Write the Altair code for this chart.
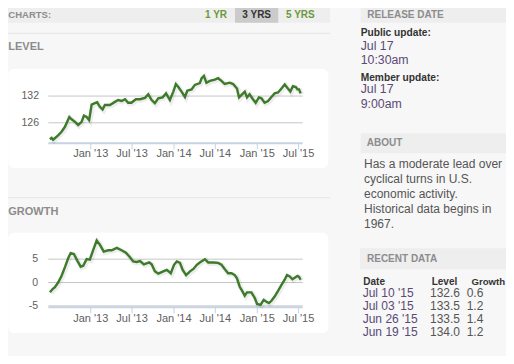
import altair as alt
import pandas as pd

# ---------------- data ----------------
level_dates = ["2012-07-06", "2012-07-13", "2012-07-20", "2012-08-11", "2012-08-26", "2012-09-10",
               "2012-09-29", "2012-10-09", "2012-10-24", "2012-11-07", "2012-11-22", "2012-12-02",
               "2012-12-14", "2012-12-25", "2013-01-05", "2013-01-19", "2013-01-29", "2013-02-10",
               "2013-02-22", "2013-03-04", "2013-03-26", "2013-04-17", "2013-05-01", "2013-05-17",
               "2013-05-31", "2013-06-14", "2013-06-28", "2013-07-18", "2013-08-05", "2013-08-27",
               "2013-09-10", "2013-09-25", "2013-10-09", "2013-10-24", "2013-11-12", "2013-11-27",
               "2013-12-14", "2013-12-29", "2014-01-09", "2014-01-19", "2014-02-03", "2014-02-18",
               "2014-02-28", "2014-03-19", "2014-04-02", "2014-04-24", "2014-05-02", "2014-05-12",
               "2014-05-23", "2014-06-07", "2014-06-29", "2014-07-13", "2014-07-28", "2014-08-11",
               "2014-09-02", "2014-09-17", "2014-10-04", "2014-10-13", "2014-10-23", "2014-11-07",
               "2014-11-17", "2014-11-28", "2014-12-13", "2014-12-25", "2015-01-08", "2015-01-19",
               "2015-02-02", "2015-02-17", "2015-03-04", "2015-03-18", "2015-04-02", "2015-04-17",
               "2015-05-01", "2015-05-15", "2015-05-26", "2015-06-06", "2015-06-19", "2015-06-26",
               "2015-07-03", "2015-07-10"]
level_values = [122.3, 122.6, 122.2, 123.2, 124.0, 125.1,
                127.3, 126.8, 126.2, 125.5, 126.2, 127.6,
                127.3, 126.6, 130.1, 130.4, 130.6, 129.6,
                129.0, 130.0, 130.0, 130.7, 131.1, 130.9,
                131.3, 130.5, 130.5, 131.3, 131.3, 131.6,
                132.4, 131.1, 130.4, 131.5, 131.7, 132.6,
                131.1, 133.0, 134.7, 134.1, 133.0, 131.8,
                133.2, 133.5, 134.5, 134.9, 136.0, 136.5,
                135.0, 135.4, 135.7, 136.0, 135.4, 134.7,
                135.0, 134.7, 133.7, 131.7, 132.2, 133.0,
                131.7, 132.4, 131.3, 130.5, 131.7, 131.5,
                130.5, 130.9, 131.8, 132.6, 132.8, 133.7,
                134.6, 133.7, 133.0, 134.2, 134.0, 133.5,
                133.5, 132.6]

growth_dates = ["2012-07-06", "2012-07-18", "2012-07-28", "2012-08-11", "2012-08-26", "2012-09-10",
                "2012-09-24", "2012-10-05", "2012-10-19", "2012-11-03", "2012-11-18", "2012-11-29",
                "2012-12-14", "2012-12-28", "2013-01-12", "2013-01-27", "2013-02-10", "2013-02-27",
                "2013-03-19", "2013-04-03", "2013-04-25", "2013-05-16", "2013-06-04", "2013-06-22",
                "2013-07-06", "2013-07-21", "2013-08-05", "2013-08-22", "2013-09-14", "2013-09-25",
                "2013-10-09", "2013-10-24", "2013-11-15", "2013-11-30", "2013-12-18", "2014-01-01",
                "2014-01-13", "2014-01-27", "2014-02-08", "2014-02-23", "2014-03-12", "2014-03-27",
                "2014-04-11", "2014-04-24", "2014-05-16", "2014-05-31", "2014-06-22", "2014-07-13",
                "2014-07-28", "2014-08-11", "2014-08-26", "2014-09-10", "2014-09-24", "2014-10-04",
                "2014-10-16", "2014-10-28", "2014-11-07", "2014-11-17", "2014-12-06", "2014-12-21",
                "2014-12-31", "2015-01-15", "2015-01-29", "2015-02-10", "2015-02-21", "2015-03-04",
                "2015-03-18", "2015-04-02", "2015-04-17", "2015-05-01", "2015-05-11", "2015-05-23",
                "2015-06-04", "2015-06-19", "2015-06-26", "2015-07-03", "2015-07-10"]
growth_values = [-2.1, -1.4, -1.0, 0.0, 1.4, 3.3,
                 5.2, 6.3, 6.1, 4.7, 3.4, 3.6,
                 5.0, 4.9, 7.0, 9.0, 8.1, 6.6,
                 6.9, 6.9, 7.4, 6.9, 6.4, 5.4,
                 4.5, 4.4, 4.6, 3.9, 4.3, 3.9,
                 2.4, 1.9, 2.4, 2.7, 2.0, 3.8,
                 4.5, 4.2, 2.7, 1.6, 2.4, 2.9,
                 3.8, 4.3, 5.0, 4.3, 4.3, 4.2,
                 3.8, 2.9, 2.0, 2.0, 1.6, 0.9,
                 -0.9, -1.9, -2.8, -2.1, -2.1, -3.3,
                 -4.6, -4.8, -3.7, -4.1, -4.4, -3.9,
                 -3.0, -1.8, -0.5, 0.6, 1.6, 1.3,
                 0.7, 1.2, 1.4, 1.2, 0.6]

level_ticks = [126, 132]
growth_ticks = [-5, 0, 5]
x_tick_dates = ["2013-01-01", "2013-07-01", "2014-01-01", "2014-07-01", "2015-01-01", "2015-07-01"]
x_tick_labels = ["Jan '13", "Jul '13", "Jan '14", "Jul '14", "Jan '15", "Jul '15"]

recent_dates = ["Jul 10 '15", "Jul 03 '15", "Jun 26 '15", "Jun 19 '15"]
recent_level = ["132.6", "133.5", "133.5", "134.0"]
recent_growth = ["0.6", "1.2", "1.4", "1.2"]

about_lines = ["Has a moderate lead over", "cyclical turns in U.S.", "economic activity.",
               "Historical data begins in", "1967."]

# ---------------- styling / layout ----------------
FONT = "Liberation Sans"
GREEN = "#3d7b2b"
GRID = "#c6c6c6"
AXIS = "#c5d3e3"
LABEL = "#606060"
DATECOL = "#5a4a75"
BODY = "#555555"
HEAD = "#8c8c8c"
BAR = "#eeeeee"
HDR_Y = 6.5

def ms(s):
    return int(pd.Timestamp(s, tz="UTC").value // 10**6)

X_DOMAIN = [ms("2012-06-29"), ms("2015-07-19")]
X_RANGE = [40.3, 294.7]
LEVEL_Y = alt.Scale(domain=[121.4, 137.4], range=[135.3, 64], nice=False, zero=False)
GROWTH_Y = alt.Scale(domain=[-5.3, 10.0], range=[299.3, 227.8], nice=False, zero=False)

one = pd.DataFrame({"k": [0]})


def xscale():
    return alt.X("date:T", scale=alt.Scale(domain=X_DOMAIN, range=X_RANGE, nice=False), axis=None)


def box(x, x2, y, y2, color, radius=0):
    return alt.Chart(one).mark_rect(color=color, cornerRadius=radius).encode(
        x=alt.value(x), x2=alt.value(x2), y=alt.value(y), y2=alt.value(y2))


def hline(x, x2, y, color, w=1):
    return alt.Chart(one).mark_rule(color=color, strokeWidth=w).encode(
        x=alt.value(x), x2=alt.value(x2), y=alt.value(y))


def text(s, x, y, size, color, bold=False, align="left"):
    return alt.Chart(one).mark_text(
        text=s, align=align, baseline="middle", font=FONT, fontSize=size,
        fontWeight="bold" if bold else "normal", color=color,
    ).encode(x=alt.value(x), y=alt.value(y))


level_df = pd.DataFrame({"date": level_dates, "value": level_values})
growth_df = pd.DataFrame({"date": growth_dates, "value": growth_values})
xt_df = pd.DataFrame({"date": x_tick_dates, "label": x_tick_labels})
lt_df = pd.DataFrame({"v": level_ticks, "label": [str(v) for v in level_ticks]})
gt_df = pd.DataFrame({"v": growth_ticks, "label": [str(v) for v in growth_ticks]})


def panel(df, yscale, ticks_df, axis_y, label_y, label_x):
    layers = []
    layers.append(alt.Chart(ticks_df).mark_rule(color=GRID, strokeWidth=1).encode(
        y=alt.Y("v:Q", scale=yscale, axis=None), x=alt.value(X_RANGE[0]), x2=alt.value(X_RANGE[1])))
    layers.append(hline(X_RANGE[0], X_RANGE[1], axis_y, AXIS, 2))
    layers.append(alt.Chart(xt_df).mark_rule(color=AXIS, strokeWidth=1).encode(
        x=xscale(), y=alt.value(axis_y), y2=alt.value(axis_y + 6)))
    layers.append(alt.Chart(df).mark_line(color="black", opacity=0.07, strokeWidth=5,
                                          xOffset=1, yOffset=1).encode(
        x=xscale(), y=alt.Y("value:Q", scale=yscale, axis=None)))
    layers.append(alt.Chart(df).mark_line(color=GREEN, strokeWidth=2.4).encode(
        x=xscale(), y=alt.Y("value:Q", scale=yscale, axis=None)))
    layers.append(alt.Chart(xt_df).mark_text(font=FONT, fontSize=11, color=LABEL,
                                            baseline="middle", align="center").encode(
        x=xscale(), y=alt.value(label_y), text="label:N"))
    layers.append(alt.Chart(ticks_df).mark_text(font=FONT, fontSize=10.5, color=LABEL,
                                               baseline="middle", align="right").encode(
        y=alt.Y("v:Q", scale=yscale, axis=None), x=alt.value(label_x), text="label:N"))
    return layers


layers = []
# left header
layers.append(box(0, 322, 0, 14.7, BAR))
layers.append(box(227, 270.3, 0, 14.7, "#cbcbcb"))
layers.append(text("CHARTS:", 0.3, HDR_Y, 9.5, HEAD, bold=True))
layers.append(text("1 YR", 197, HDR_Y, 10, "#6a9a3a", bold=True))
layers.append(text("3 YRS", 234.3, HDR_Y, 10, "#333333", bold=True))
layers.append(text("5 YRS", 278, HDR_Y, 10, "#6a9a3a", bold=True))
layers.append(hline(0, 322, 25.3, "#e4e4e4", 1))
layers.append(text("LEVEL", 0.3, 39.3, 11, HEAD, bold=True))
layers.append(box(0.3, 320.3, 61, 160, "white", 6))
layers.append(hline(0, 322, 189.7, "#e4e4e4", 1))
layers.append(text("GROWTH", 0.3, 203.7, 11, HEAD, bold=True))
layers.append(box(0.3, 320.3, 224.7, 325, "white", 6))
layers += panel(level_df, LEVEL_Y, lt_df, 135.3, 146, 31)
layers += panel(growth_df, GROWTH_Y, gt_df, 299.3, 311.3, 30)

# right column
layers.append(box(352.7, 498, 0, 14.7, BAR))
layers.append(text("RELEASE DATE", 359.3, HDR_Y, 10, HEAD, bold=True))
layers.append(text("Public update:", 352.7, 25.3, 10.2, "#333333", bold=True))
layers.append(text("Jul 17", 352.7, 37.7, 12.3, DATECOL))
layers.append(text("10:30am", 352.7, 52, 12.3, DATECOL))
layers.append(text("Member update:", 352.7, 70.3, 10.2, "#333333", bold=True))
layers.append(text("Jul 17", 352.7, 81.3, 12.3, DATECOL))
layers.append(text("9:00am", 352.7, 96.3, 12.3, DATECOL))

layers.append(box(352.7, 498, 125.3, 145.3, BAR))
layers.append(text("ABOUT", 358.7, 135, 10, HEAD, bold=True))
for i, line in enumerate(about_lines):
    layers.append(text(line, 356, 156.3 + i * 15, 12, BODY))

layers.append(box(352, 498, 240.3, 261.3, BAR))
layers.append(text("RECENT DATA", 359, 250.5, 10, HEAD, bold=True))
layers.append(text("Date", 355.3, 273.7, 10, "#333333", bold=True))
layers.append(text("Level", 423.7, 273.7, 10, "#333333", bold=True))
layers.append(text("Growth", 463.5, 273.7, 9.6, "#333333", bold=True))
for i in range(len(recent_dates)):
    yy = 285.3 + i * 13
    layers.append(text(recent_dates[i], 354.7, yy, 12, DATECOL))
    layers.append(text(recent_level[i], 422, yy, 12, BODY))
    layers.append(text(recent_growth[i], 458.7, yy, 12, BODY))

chart = alt.layer(*layers).properties(
    width=498, height=348, padding=0, background="#f7f7f7",
    autosize=alt.AutoSizeParams(type="none"),
).resolve_scale(x="independent", y="independent").configure_view(stroke=None)

chart.save("out.html", embed_options={"renderer": "svg", "actions": False})
